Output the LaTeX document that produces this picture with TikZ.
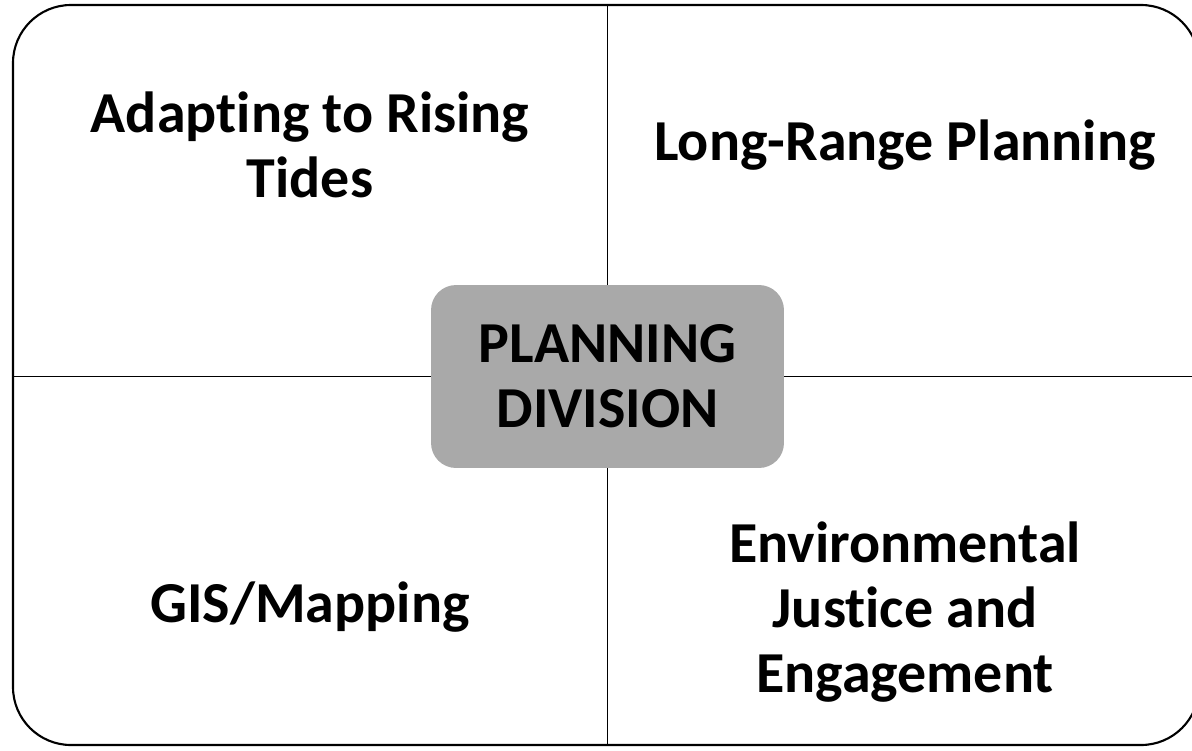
\documentclass[tikz,border=0pt]{standalone}
\usepackage{fontspec}
\setmainfont[Ligatures=NoCommon]{Carlito}
\usepackage{xcolor}
\usetikzlibrary{calc}
\definecolor{boxgray}{HTML}{A9A9A9}
\tikzset{
  frameline/.style={draw=black, line width=1.2pt, rounded corners=1.16cm},
  divider/.style={draw=black, line width=0.85pt},
  hub/.style={fill=boxgray, draw=none, rounded corners=0.5cm, minimum width=7.06cm, minimum height=3.66cm, align=center, font=\fontsize{33}{37}\selectfont\bfseries},
  topic/.style={align=center, font=\fontsize{33}{37}\selectfont\bfseries},
}

\begin{document}
\begin{tikzpicture}[x=0.02cm, y=-0.02cm]
  \useasboundingbox (0,0) rectangle (1192,750);
  \coordinate (TL) at (13,5);
  \coordinate (BR) at (1199,745);
  \draw[frameline] (TL) rectangle (BR);
  \node[hub] (pd) at (607.5,376.5) {PLANNING\\DIVISION};
  \draw[divider] (pd.north) -- (pd.north |- TL);
  \draw[divider] (pd.south) -- (pd.south |- BR);
  \draw[divider] (pd.west) -- (pd.west -| TL);
  \draw[divider] (pd.east) -- (pd.east -| BR);
  \node[topic] (art) at (310,145) {Adapting to Rising\\Tides};
  \node[topic] (lrp) at (905,145) {Long-Range Planning};
  \node[topic] (gis) at (310,607) {GIS/Mapping};
  \node[topic] (eje) at (905,612) {Environmental\\Justice and\\Engagement};
\end{tikzpicture}
\end{document}
